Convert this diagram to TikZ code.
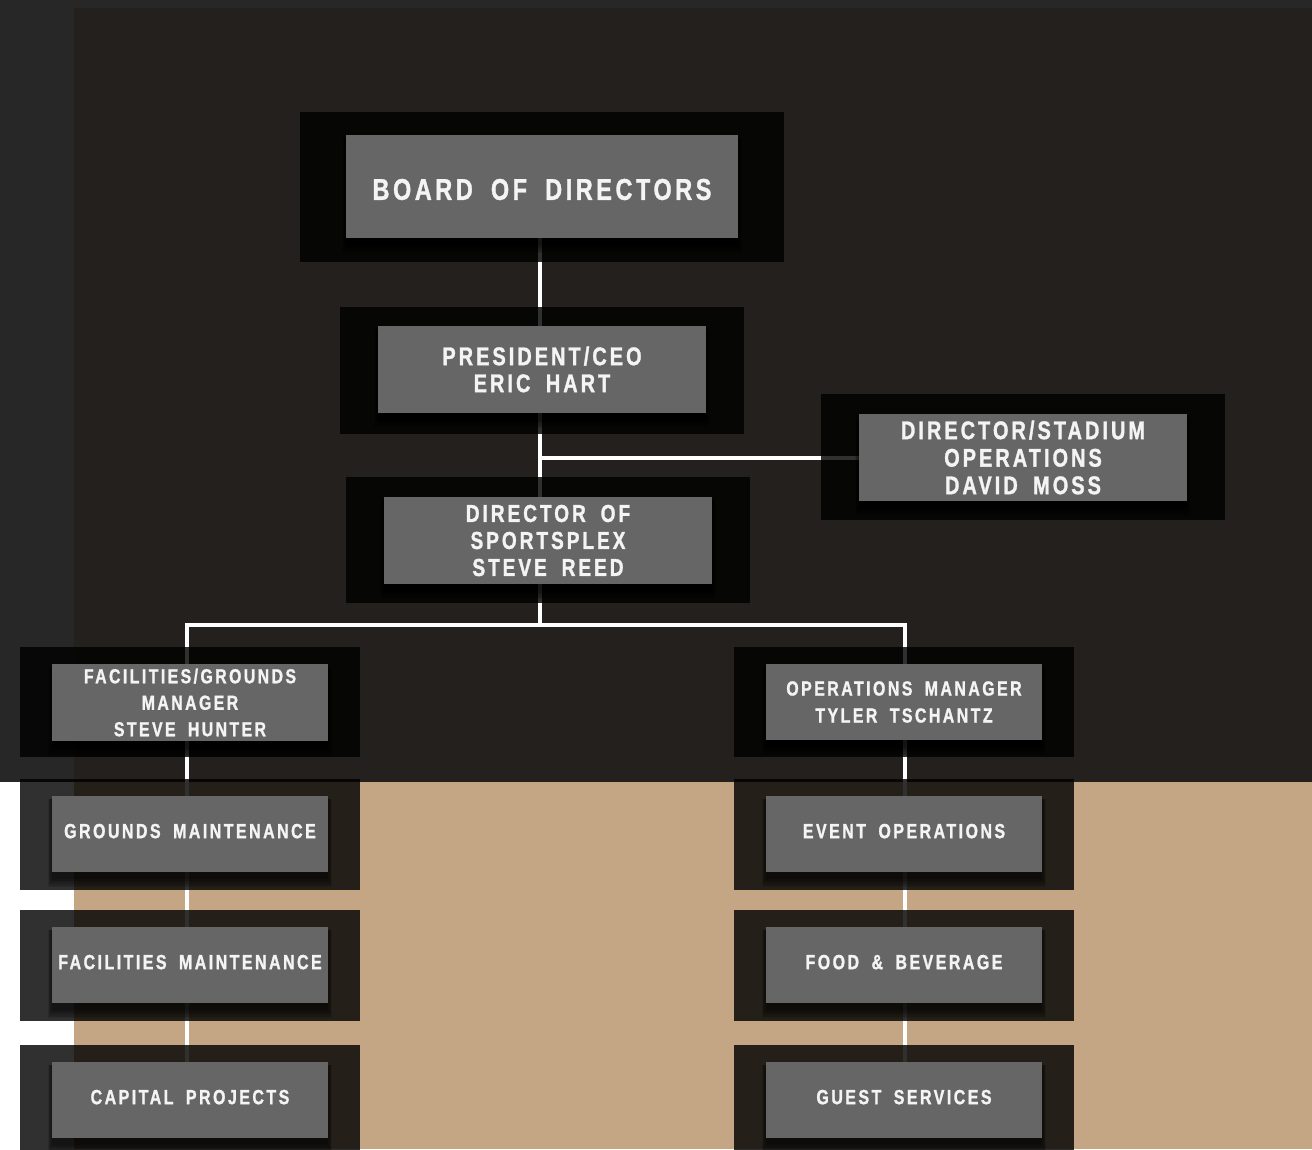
\documentclass[tikz,border=0pt]{standalone}
\usepackage{fontspec}
\newfontfamily\orgfont[FakeStretch=0.78,LetterSpace=12,WordSpace=1.8,FakeBold=1.2]{Liberation Sans}
\usetikzlibrary{calc}
\pgfdeclarelayer{bg}\pgfdeclarelayer{lines}\pgfdeclarelayer{outer}\pgfdeclarelayer{shade}
\pgfsetlayers{bg,lines,outer,shade,main}
\definecolor{darkbg}{HTML}{23201D}
\definecolor{sidebg}{HTML}{272727}
\definecolor{tanbg}{HTML}{C4A584}
\definecolor{boxgray}{HTML}{666666}
\definecolor{txt}{HTML}{F4F4F4}
\tikzset{
  outerfill/.style={fill=black, fill opacity=0.81},
  innerbox/.style={fill=boxgray, draw=none, inner sep=0pt, text=txt, align=center},
  connector/.style={draw=white, line width=4pt},
}
\newcommand\uptext[1]{\raisebox{6pt}{#1}}
\newcommand\downtext[1]{\raisebox{0pt}[\dimexpr\height+6pt\relax][\depth]{#1}}
\newcommand\outerrect[4]{\begin{pgfonlayer}{outer}\fill[outerfill] (#1,#2) rectangle (#3,#4);\end{pgfonlayer}}
\newcommand\innerrect[7]{%
  \node[innerbox, minimum width={#4-#2}, minimum height={#5-#3}, font={\orgfont\bfseries\fontsize#6\selectfont}] (#1) at ({(#2+#4)/2},{(#3+#5)/2}) {#7};
  \begin{pgfonlayer}{shade}
    \foreach \k in {0,...,5}{\pgfmathsetmacro\d{1.6*\k}\pgfmathsetmacro\e{0.8*\k}
      \fill[black,opacity=0.12] ([shift={(-\e pt,-7pt-\d pt)}]#1.south west) rectangle ([shift={(\e pt,-3pt)}]#1.north east);}
  \end{pgfonlayer}}
\begin{document}
\begin{tikzpicture}[x=1pt,y=-1pt]
\useasboundingbox (0,0) rectangle (1312,1149);
\begin{pgfonlayer}{bg}
  \fill[sidebg] (0,0) rectangle (1312,1149);
  \fill[darkbg] (74,8) rectangle (1312,782);
  \fill[white] (0,782) rectangle (74,1149);
  \fill[tanbg] (74,782) rectangle (1312,1149);
\end{pgfonlayer}

% outer frames
\outerrect{300}{112}{784}{262}
\outerrect{340}{307}{744}{434}
\outerrect{821}{394}{1225}{520}
\outerrect{346}{477}{750}{603}
\outerrect{20}{647}{360}{757}
\outerrect{734}{647}{1074}{757}
\outerrect{20}{779}{360}{890}
\outerrect{734}{779}{1074}{890}
\outerrect{20}{910}{360}{1021}
\outerrect{734}{910}{1074}{1021}
\outerrect{20}{1045}{360}{1160}
\outerrect{734}{1045}{1074}{1160}

% inner boxes
\innerrect{board}{346}{135}{738}{238}{{30}{32}}{\downtext{BOARD OF DIRECTORS}}
\innerrect{pres}{378}{326}{706}{413}{{25.5}{27}}{PRESIDENT/CEO\\ERIC HART}
\innerrect{dso}{859}{414}{1187}{501}{{25.5}{27.5}}{DIRECTOR/STADIUM\\OPERATIONS\\DAVID MOSS}
\innerrect{dos}{384}{497}{712}{584}{{24.5}{27}}{DIRECTOR OF\\SPORTSPLEX\\STEVE REED}
\innerrect{fgm}{52}{664}{328}{741}{{20.3}{26.5}}{FACILITIES/GROUNDS\\MANAGER\\STEVE HUNTER}
\innerrect{opm}{766}{664}{1042}{740}{{20.4}{27}}{OPERATIONS MANAGER\\TYLER TSCHANTZ}
\innerrect{grm}{52}{796}{328}{872}{{20.5}{24}}{\uptext{GROUNDS MAINTENANCE}}
\innerrect{evo}{766}{796}{1042}{872}{{20.5}{24}}{\uptext{EVENT OPERATIONS}}
\innerrect{fam}{52}{927}{328}{1003}{{20.5}{24}}{\uptext{FACILITIES MAINTENANCE}}
\innerrect{fnb}{766}{927}{1042}{1003}{{20.5}{24}}{\uptext{FOOD \& BEVERAGE}}
\innerrect{cap}{52}{1062}{328}{1138}{{20.5}{24}}{\uptext{CAPITAL PROJECTS}}
\innerrect{gst}{766}{1062}{1042}{1138}{{20.5}{24}}{\uptext{GUEST SERVICES}}

\coordinate (trunk) at (540,625);
\coordinate (ltrunk) at (187,625);
\coordinate (rtrunk) at (905,625);

\begin{pgfonlayer}{lines}
  \draw[connector] (board.south -| trunk) -- (pres.north -| trunk);
  \draw[connector] (pres.south -| trunk) -- (dos.north -| trunk);
  \draw[connector] (trunk |- dso.west) -- (dso.west);
  \draw[connector] (dos.south -| trunk) -- (trunk);
  \draw[connector] (fgm.north -| ltrunk) -- (ltrunk) -- (rtrunk) -- (opm.north -| rtrunk);
  \draw[connector] (fgm.south -| ltrunk) -- (cap.north -| ltrunk);
  \draw[connector] (opm.south -| rtrunk) -- (gst.north -| rtrunk);
\end{pgfonlayer}
\end{tikzpicture}
\end{document}
